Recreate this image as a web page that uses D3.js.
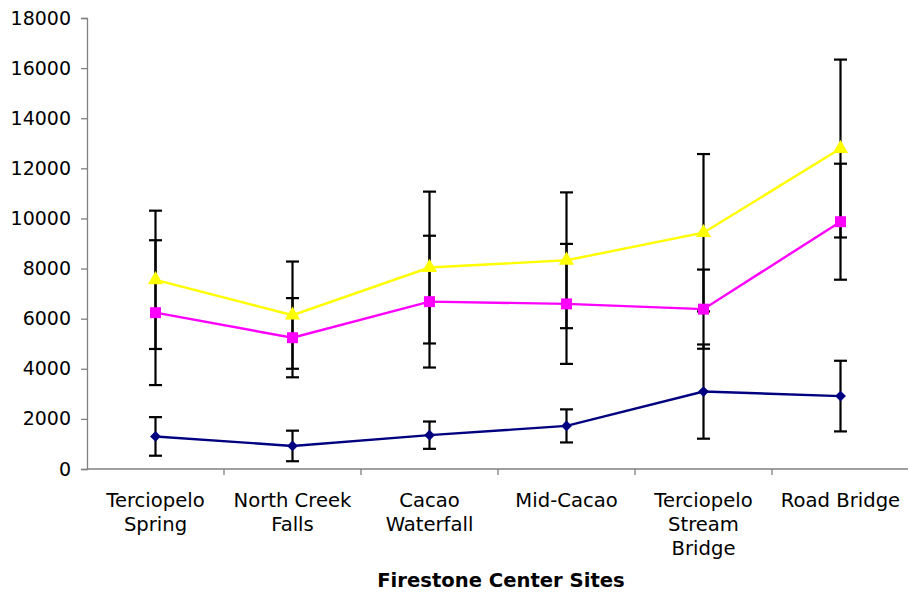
<!DOCTYPE html>
<html>
<head>
<meta charset="utf-8">
<script src="https://cdn.jsdelivr.net/npm/d3@7"></script>
<style>
  html, body { margin: 0; padding: 0; background: #fff; }
  svg { display: block; font-family: "DejaVu Sans", Verdana, sans-serif; }
</style>
</head>
<body>
<svg id="chart" width="908" height="592"></svg>
<script>
// Sampling sites along the creek
const categories = [
  "Terciopelo Spring",
  "North Creek Falls",
  "Cacao Waterfall",
  "Mid-Cacao",
  "Terciopelo Stream Bridge",
  "Road Bridge"
];
// How each site name is broken over lines under the axis
const categoryLines = [
  ["Terciopelo", "Spring"],
  ["North Creek", "Falls"],
  ["Cacao", "Waterfall"],
  ["Mid-Cacao"],
  ["Terciopelo", "Stream", "Bridge"],
  ["Road Bridge"]
];

// Site means and their +/- error amounts
const lowValues    = [1300, 920, 1350, 1720, 3090, 2910];
const lowErrors    = [770, 610, 545, 660, 1880, 1410];
const midValues    = [6240, 5240, 6680, 6590, 6380, 9870];
const midErrors    = [2890, 1580, 2630, 2395, 1580, 2315];
const highValues   = [7550, 6140, 8040, 8330, 9430, 12790];
const highErrors   = [2760, 2140, 3030, 2710, 3140, 3550];

const yTicks = [0, 2000, 4000, 6000, 8000, 10000, 12000, 14000, 16000, 18000];
const xTitle = "Firestone Center Sites";

const series = [
  { name: "low",  values: lowValues,  errors: lowErrors,  color: "#000080", marker: "diamond" },
  { name: "mid",  values: midValues,  errors: midErrors,  color: "#FF00FF", marker: "square" },
  { name: "high", values: highValues, errors: highErrors, color: "#FFFF00", marker: "triangle" }
];

const svg = d3.select("#chart");
const plotLeft = 87, plotRight = 909, plotTop = 18, plotBottom = 469;
const axisColor = "#808080";

const x = d3.scaleBand().domain(categories).range([plotLeft, plotRight]).padding(0);
const y = d3.scaleLinear().domain([0, 18000]).range([plotBottom, plotTop]);
const cx = c => x(c) + x.bandwidth() / 2;

// Y axis
const yAxis = svg.append("g")
  .attr("transform", `translate(${plotLeft},0)`)
  .call(d3.axisLeft(y).tickValues(yTicks).tickSize(6).tickPadding(10).tickFormat(d3.format("d")));
yAxis.select(".domain").attr("stroke", axisColor).attr("stroke-width", 1.3);
yAxis.selectAll(".tick line").attr("stroke", axisColor).attr("stroke-width", 1.3);
yAxis.selectAll(".tick text")
  .attr("fill", "#000")
  .style("font-size", "19px")
  .style("font-family", "'DejaVu Sans', Verdana, sans-serif");

// X axis: ticks sit on the boundaries between sites
const xAxis = svg.append("g").attr("transform", `translate(0,${plotBottom})`);
xAxis.append("line")
  .attr("x1", plotLeft).attr("x2", plotRight)
  .attr("stroke", axisColor).attr("stroke-width", 1.3);
const boundaries = categories.map(c => x(c)).concat([x(categories[categories.length - 1]) + x.bandwidth()]);
xAxis.selectAll("line.tick")
  .data(boundaries.slice(1))
  .join("line")
  .attr("class", "tick")
  .attr("x1", d => d).attr("x2", d => d)
  .attr("y1", 0).attr("y2", 6)
  .attr("stroke", axisColor).attr("stroke-width", 1.3);

// Site labels
const labels = svg.append("g")
  .style("font-size", "19.6px")
  .attr("fill", "#000")
  .attr("text-anchor", "middle");
categories.forEach((c, i) => {
  const t = labels.append("text").attr("x", cx(c)).attr("y", 507);
  categoryLines[i].forEach((line, j) => {
    t.append("tspan").attr("x", cx(c)).attr("dy", j === 0 ? 0 : 24).text(line);
  });
});

// Axis title
svg.append("text")
  .attr("x", 501)
  .attr("y", 587)
  .attr("text-anchor", "middle")
  .style("font-size", "19.6px")
  .style("font-weight", "bold")
  .text(xTitle);

const plot = svg.append("g");

// Error bars
const capHalf = 6.5;
series.forEach(s => {
  const g = plot.append("g");
  categories.forEach((c, i) => {
    const hi = y(s.values[i] + s.errors[i]);
    const lo = y(s.values[i] - s.errors[i]);
    const px = cx(c);
    g.append("line").attr("x1", px).attr("x2", px).attr("y1", hi).attr("y2", lo)
      .attr("stroke", "#000").attr("stroke-width", 2.2);
    [hi, lo].forEach(v => {
      g.append("line").attr("x1", px - capHalf).attr("x2", px + capHalf).attr("y1", v).attr("y2", v)
        .attr("stroke", "#000").attr("stroke-width", 2.2);
    });
  });
});

// Lines
const line = d3.line().x((d, i) => cx(categories[i])).y(d => y(d));
series.forEach(s => {
  plot.append("path")
    .datum(s.values)
    .attr("d", line)
    .attr("fill", "none")
    .attr("stroke", s.color)
    .attr("stroke-width", 2.4);
});

// Markers
const symbolFor = {
  diamond: d3.symbol().type(d3.symbolDiamond2).size(75),
  square: d3.symbol().type(d3.symbolSquare).size(120),
  triangle: d3.symbol().type(d3.symbolTriangle).size(100)
};
series.forEach(s => {
  plot.append("g").selectAll("path")
    .data(s.values)
    .join("path")
    .attr("transform", (d, i) => `translate(${cx(categories[i])},${y(d)})`)
    .attr("d", symbolFor[s.marker]())
    .attr("fill", s.color);
});
</script>
</body>
</html>
